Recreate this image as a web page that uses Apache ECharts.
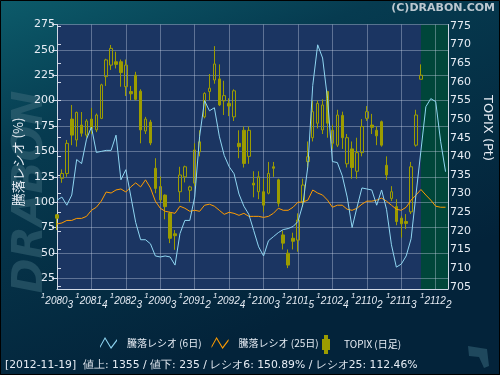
<!DOCTYPE html>
<html lang="ja">

<head>
    <meta charset="UTF-8">
    <title>騰落レシオ</title>
    <script src="https://cdn.jsdelivr.net/npm/echarts@6.0.0/dist/echarts.min.js"></script>
    <style>
        html, body { margin: 0; padding: 0; background: #03243a; }
    </style>
</head>

<body>
    <div id="echart" style="width: 500px; height: 375px;"></div>
</body>

<script>
    // x軸目盛り (7営業日ごと)
    const tickLabels = ['120803', '120814', '120823', '120903', '120912', '120924',
        '121003', '121015', '121024', '121102', '121113', '121122'];

    // 騰落レシオ 6日 (%)
    const ratio6 = [102, 105, 97, 107, 142, 138, 162, 174, 149, 150,
        151, 151, 166, 122, 132, 106, 80, 63, 63, 59,
        47, 46, 47, 46, 38, 69, 82, 82, 105, 165,
        200, 190, 193, 165, 146, 135, 128, 108, 96, 88,
        72, 56, 47, 62, 66, 70, 73, 74, 76, 81,
        98, 135, 215, 255, 242, 202, 140, 139, 126, 105,
        75, 95, 114, 113, 112, 97, 112, 93, 58, 36,
        39, 47, 64, 108, 150.89, 194, 202, 199, 160, 130];

    // 騰落レシオ 25日 (%)
    const ratio25 = [78.5, 79.5, 82, 82, 84, 84, 86, 92, 95, 101,
        110, 109, 112, 113, 110, 115, 119, 115, 122, 114,
        101, 94, 91, 90, 89, 96, 94, 91, 92, 91,
        97, 98, 96, 92, 88, 90, 89, 87, 89, 86,
        86, 86, 85, 86, 89, 94, 92, 92, 95, 100,
        100, 102, 112, 109, 107, 102, 95, 97, 97, 93,
        92, 94, 98, 101, 101, 102, 104, 101, 97, 93,
        92, 95, 102, 107, 112.46, 107, 102, 96, 95, 95];

    // TOPIX 日足 [始値, 終値, 安値, 高値]
    const topix = [
        [724.3, 723.4, 720.2, 724.5], [734.1, 735.4, 732.9, 736.5], [735.4, 743.5, 734.5, 744.4],
        [750.0, 745.7, 743.0, 753.8], [744.4, 751.8, 742.6, 752.0], [748.4, 746.2, 745.3, 751.9],
        [745.7, 749.5, 745.0, 750.0], [750.0, 747.5, 746.0, 753.0], [747.1, 751.1, 746.5, 751.5],
        [750.2, 759.2, 750.0, 759.5], [761.4, 765.9, 758.9, 766.2], [764.5, 769.0, 763.2, 769.9],
        [765.4, 764.7, 763.6, 768.1], [765.4, 762.5, 758.7, 766.0], [758.7, 764.5, 756.2, 766.0],
        [757.4, 756.8, 755.1, 758.9], [761.8, 755.3, 755.0, 762.7], [757.5, 747.1, 743.5, 758.0],
        [746.8, 750.0, 746.0, 750.6], [749.2, 743.6, 743.0, 749.8], [736.8, 731.4, 730.1, 739.5],
        [728.3, 731.9, 727.6, 734.6], [729.6, 726.5, 723.1, 729.8], [724.7, 718.0, 716.7, 725.1],
        [719.2, 718.7, 714.9, 720.2], [730.5, 735.0, 727.8, 737.2], [734.5, 737.2, 733.0, 737.5],
        [730.9, 731.8, 727.8, 732.1], [732.8, 741.7, 732.0, 743.5], [741.2, 743.9, 740.0, 747.0],
        [750.6, 756.9, 750.2, 757.2], [757.4, 758.3, 755.1, 762.1], [760.5, 764.8, 759.5, 769.6],
        [760.8, 753.8, 753.5, 764.7], [754.9, 756.3, 751.1, 760.3], [754.2, 753.5, 750.8, 755.6],
        [750.6, 757.6, 749.5, 758.0], [743.5, 742.6, 739.5, 747.0], [747.0, 738.1, 737.0, 748.0],
        [740.0, 747.0, 738.0, 748.0], [732.8, 732.3, 729.0, 736.0], [730.5, 734.5, 728.5, 736.0],
        [730.5, 726.9, 725.0, 734.0], [730.1, 735.4, 729.8, 738.5], [737.2, 736.8, 734.5, 738.5],
        [733.7, 727.4, 726.5, 734.0], [718.9, 716.7, 715.0, 720.0], [714.0, 710.8, 710.0, 715.0],
        [718.0, 717.2, 715.0, 719.5], [717.5, 722.9, 714.4, 724.7], [727.8, 732.3, 726.5, 734.0],
        [738.6, 739.9, 737.0, 744.0], [745.0, 752.0, 744.0, 755.0], [748.9, 754.2, 747.5, 755.0],
        [747.1, 753.8, 746.0, 755.3], [757.4, 748.9, 745.0, 757.6], [743.5, 747.0, 742.0, 748.5],
        [743.0, 751.1, 742.5, 752.5], [751.0, 745.0, 742.0, 752.0], [738.0, 745.0, 737.0, 746.0],
        [742.0, 737.0, 734.0, 744.0], [736.0, 741.0, 734.0, 745.0], [741.0, 748.0, 740.0, 750.0],
        [750.2, 752.0, 749.5, 753.5], [748.4, 747.8, 746.0, 751.4], [747.0, 745.5, 743.0, 748.0],
        [749.3, 743.0, 742.6, 749.6], [737.6, 735.0, 733.7, 740.0], [728.7, 730.5, 728.0, 732.0],
        [726.5, 722.5, 721.5, 728.5], [723.4, 721.9, 718.2, 724.0], [722.5, 722.0, 720.5, 724.5],
        [725.1, 737.2, 724.5, 738.5], [743.0, 751.1, 742.6, 752.5], [760.7, 761.8, 760.7, 764.7]
    ];

    const lastDate = '2012-11-19';
    const advances = 1355;
    const declines = 235;

    const xMax = 79.5;  // 右端 (index)
    const axisColor = '#d0d8e6';
    const textColor = '#e6ecf4';
    const gridLine = 'rgba(205,215,235,0.38)';
    const olive = '#9c9c00';

    const lineIcon = 'path://M0,10 L5,1 L11,11 L17,3 L17,5 L11,13 L5,3 L0,12 Z';
    const candleIcon = 'path://M3,0 L5,0 L5,4 L7,4 L7,13 L5,13 L5,17 L3,17 L3,13 L1,13 L1,4 L3,4 Z';

    function xLabel(v) {
        const k = v / 7;
        if (!Number.isInteger(k) || k >= tickLabels.length) return '';
        const s = tickLabels[k];
        return '{a|' + s[0] + '}{b|' + s.slice(1, 5) + '}{c|' + s[5] + '}';
    }

    const hiddenX = idx => ({
        gridIndex: idx, type: 'value', min: 0, max: xMax, show: false
    });

    const last = topix.length - 1;
    const status = '[' + lastDate + ']  値上: ' + advances + ' / 値下: ' + declines +
        ' / レシオ6: ' + ratio6[last].toFixed(2) + '% / レシオ25: ' + ratio25[last].toFixed(2) + '%';

    const myChart = echarts.init(document.getElementById('echart'));

    myChart.setOption({
        animation: false,
        backgroundColor: {
            type: 'linear', x: 0, y: 0, x2: 0.3, y2: 1,
            colorStops: [
                { offset: 0, color: '#0c5b6a' },
                { offset: 0.35, color: '#063b50' },
                { offset: 1, color: '#03233a' }
            ]
        },
        textStyle: { fontFamily: 'DejaVu Sans' },
        grid: [
            // 枠・背景
            { left: 57, right: 52, top: 24.5, bottom: 86, show: true, backgroundColor: '#1b3562', borderWidth: 0 },
            // 騰落レシオ
            { left: 57, right: 52, top: 24.5, bottom: 96.7 },
            // TOPIX
            { left: 57, right: 52, top: 26, bottom: 88.3 }
        ],
        xAxis: [
            {
                gridIndex: 0, type: 'value', min: 0, max: xMax, interval: 7, z: 3,
                axisLine: { show: true, lineStyle: { color: axisColor } },
                axisTick: { show: false },
                splitLine: { show: true, lineStyle: { color: gridLine } },
                axisLabel: {
                    margin: 3,
                    showMinLabel: true,
                    hideOverlap: false,
                    formatter: xLabel,
                    color: textColor,
                    rich: {
                        a: { fontFamily: 'Liberation Sans', fontStyle: 'italic', fontSize: 8, lineHeight: 9, verticalAlign: 'top', color: textColor },
                        b: { fontFamily: 'Liberation Sans', fontStyle: 'italic', fontSize: 10, lineHeight: 18, verticalAlign: 'middle', color: textColor },
                        c: { fontFamily: 'Liberation Sans', fontStyle: 'italic', fontSize: 10, lineHeight: 10, verticalAlign: 'bottom', color: textColor }
                    }
                }
            },
            hiddenX(1),
            hiddenX(2)
        ],
        yAxis: [
            {
                gridIndex: 0, position: 'left', min: 0, max: 1, z: 3,
                axisLine: { show: true, lineStyle: { color: axisColor } },
                axisTick: { show: false }, axisLabel: { show: false }, splitLine: { show: false }
            },
            {
                gridIndex: 0, position: 'right', min: 0, max: 1, z: 3,
                axisLine: { show: true, lineStyle: { color: axisColor } },
                axisTick: { show: false }, axisLabel: { show: false }, splitLine: { show: false }
            },
            {
                gridIndex: 1, position: 'left', min: 25, max: 275, interval: 25, z: 3,
                axisLine: { show: false },
                axisTick: { show: true, length: 5, lineStyle: { color: axisColor } },
                axisLabel: { color: textColor, fontSize: 11, margin: 2, showMinLabel: true, showMaxLabel: true },
                splitLine: { show: true, lineStyle: { color: gridLine } }
            },
            {
                gridIndex: 2, position: 'right', min: 705, max: 775, interval: 5, z: 3,
                axisLine: { show: false },
                axisTick: { show: true, length: 4, lineStyle: { color: axisColor } },
                axisLabel: { color: textColor, fontSize: 11, margin: 2, showMinLabel: true, showMaxLabel: true },
                splitLine: { show: false }
            }
        ],
        legend: [
            {
                left: 100, top: 337, padding: 0, itemWidth: 17, itemHeight: 12, itemGap: 10,
                textStyle: { color: textColor, fontSize: 10, fontFamily: 'Noto Sans CJK JP', padding: [0, 0, 0, 5] },
                data: [
                    { name: '騰落レシオ (6日)', icon: lineIcon },
                    { name: '騰落レシオ (25日)', icon: lineIcon }
                ]
            },
            {
                left: 322, top: 335, padding: 0, itemWidth: 8, itemHeight: 17,
                textStyle: { color: textColor, fontSize: 10, fontFamily: 'Noto Sans CJK JP', padding: [0, 0, 0, 9] },
                data: [{ name: 'TOPIX (日足)', icon: candleIcon, itemStyle: { color: olive } }]
            }
        ],
        series: [
            {
                // 直近の区間 (緑)
                type: 'line', xAxisIndex: 0, yAxisIndex: 0, data: [], silent: true, z: 1,
                markArea: {
                    silent: true,
                    itemStyle: { color: '#00463a' },
                    data: [[{ xAxis: last }, { xAxis: xMax }]]
                }
            },
            {
                name: 'TOPIX (日足)', type: 'candlestick', xAxisIndex: 2, yAxisIndex: 3, z: 4,
                barWidth: 3,
                itemStyle: {
                    color: 'rgba(0,0,0,0)', color0: olive,
                    borderColor: olive, borderColor0: olive, borderWidth: 1
                },
                data: topix.map((d, i) => [i, d[0], d[1], d[2], d[3]])
            },
            {
                name: '騰落レシオ (25日)', type: 'line', xAxisIndex: 1, yAxisIndex: 2, z: 5,
                symbol: 'none', clip: false,
                itemStyle: { color: '#ff9c00' },
                lineStyle: { color: '#ff9c00', width: 1 },
                data: ratio25.map((v, i) => [i, v])
            },
            {
                name: '騰落レシオ (6日)', type: 'line', xAxisIndex: 1, yAxisIndex: 2, z: 6,
                symbol: 'none', clip: false,
                itemStyle: { color: '#8fd6f2' },
                lineStyle: { color: '#8fd6f2', width: 1 },
                data: ratio6.map((v, i) => [i, v])
            }
        ],
        graphic: [
            {
                type: 'text', x: 31, y: 192, rotation: Math.PI / 2, z: -1, silent: true,
                style: {
                    text: 'DRABON', fill: 'rgba(62,108,124,0.5)', font: 'italic bold 42px "DejaVu Sans"',
                    textAlign: 'center', textVerticalAlign: 'middle'
                }
            },
            {
                type: 'polygon', z: -1, silent: true,
                shape: { points: [[468, 346], [487, 349], [489, 366], [484, 368], [479, 357], [469, 356]] },
                style: { fill: 'rgba(60,110,128,0.5)' }
            },
            {
                type: 'text', x: 18, y: 162, rotation: Math.PI / 2,
                style: {
                    text: '騰落レシオ (%)', fill: textColor, font: '13px "Noto Sans CJK JP"',
                    textAlign: 'center', textVerticalAlign: 'middle'
                }
            },
            {
                type: 'text', x: 487, y: 128, rotation: -Math.PI / 2,
                style: {
                    text: 'TOPIX (Pt)', fill: textColor, font: '13px "DejaVu Sans"',
                    textAlign: 'center', textVerticalAlign: 'middle'
                }
            },
            {
                type: 'text', x: 495, y: 8,
                style: {
                    text: '(C)DRABON.COM', fill: '#bcc8d0', font: 'bold 11px "DejaVu Sans"',
                    textAlign: 'right', textVerticalAlign: 'middle'
                }
            },
            {
                type: 'text', x: 5, y: 365,
                style: {
                    text: status, fill: textColor, font: '10.8px "DejaVu Sans"',
                    textVerticalAlign: 'middle'
                }
            },
            {
                type: 'rect', silent: true,
                shape: { x: 0.5, y: 0.5, width: 499, height: 374 },
                style: { fill: 'none', stroke: '#000', lineWidth: 1 }
            }
        ]
    });
</script>

</html>
